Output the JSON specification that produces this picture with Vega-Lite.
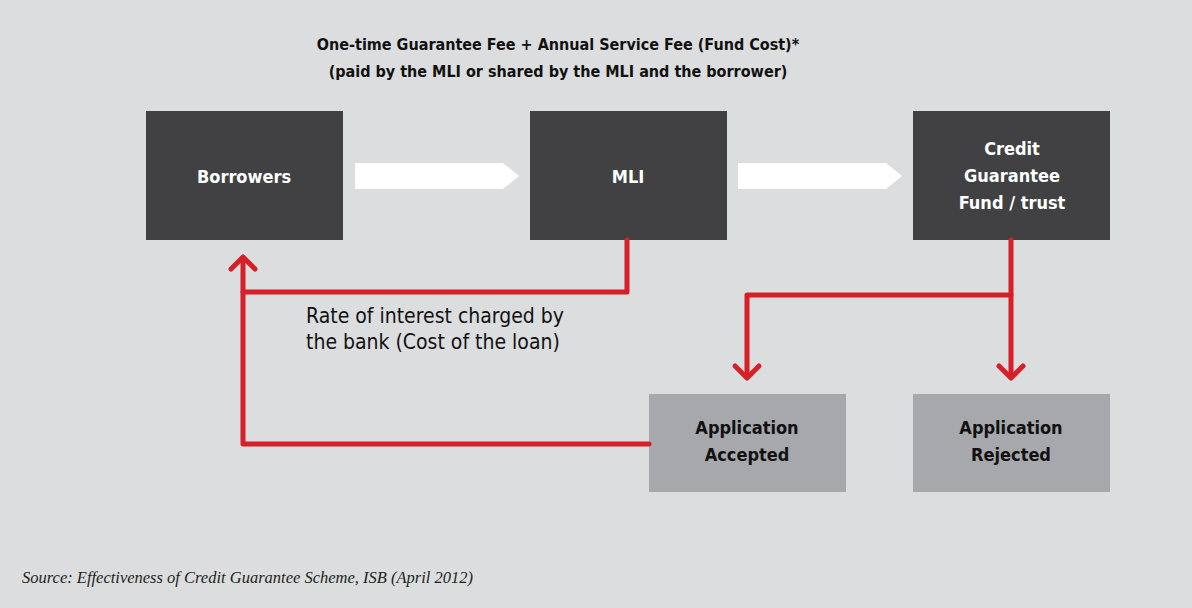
{
  "$schema": "https://vega.github.io/schema/vega-lite/v6.json",
  "width": 1192,
  "height": 608,
  "padding": 0,
  "autosize": {"type": "fit", "contains": "padding"},
  "background": "#dcdddf",
  "config": {"view": {"stroke": null}},
  "datasets": {
    "boxes": [
      {"name": "Borrowers", "x1": 146, "x2": 343, "y1": 111, "y2": 240, "kind": "main"},
      {"name": "MLI", "x1": 530, "x2": 727, "y1": 111, "y2": 240, "kind": "main"},
      {"name": "Fund", "x1": 913, "x2": 1110, "y1": 111, "y2": 240, "kind": "main"},
      {"name": "Accepted", "x1": 649, "x2": 846, "y1": 394, "y2": 492, "kind": "outcome"},
      {"name": "Rejected", "x1": 913, "x2": 1110, "y1": 394, "y2": 492, "kind": "outcome"}
    ],
    "arrows": [
      {"arrow": "a1", "x": 355, "top": 163, "bottom": 189},
      {"arrow": "a1", "x": 503, "top": 163, "bottom": 189},
      {"arrow": "a1", "x": 519, "top": 176, "bottom": 176},
      {"arrow": "a2", "x": 738, "top": 163, "bottom": 189},
      {"arrow": "a2", "x": 886, "top": 163, "bottom": 189},
      {"arrow": "a2", "x": 902, "top": 176, "bottom": 176}
    ],
    "paths": [
      {"path": "A", "o": 1, "x": 649, "y": 444},
      {"path": "A", "o": 2, "x": 243, "y": 444},
      {"path": "A", "o": 3, "x": 243, "y": 258},
      {"path": "B", "o": 1, "x": 627, "y": 240},
      {"path": "B", "o": 2, "x": 627, "y": 292},
      {"path": "B", "o": 3, "x": 243, "y": 292},
      {"path": "H1", "o": 1, "x": 231, "y": 269},
      {"path": "H1", "o": 2, "x": 243, "y": 257},
      {"path": "H1", "o": 3, "x": 255, "y": 269},
      {"path": "C", "o": 1, "x": 1011, "y": 240},
      {"path": "C", "o": 2, "x": 1011, "y": 377},
      {"path": "D", "o": 1, "x": 1011, "y": 295},
      {"path": "D", "o": 2, "x": 747, "y": 295},
      {"path": "D", "o": 3, "x": 747, "y": 377},
      {"path": "H2", "o": 1, "x": 735, "y": 366},
      {"path": "H2", "o": 2, "x": 747, "y": 378},
      {"path": "H2", "o": 3, "x": 759, "y": 366},
      {"path": "H3", "o": 1, "x": 999, "y": 366},
      {"path": "H3", "o": 2, "x": 1011, "y": 378},
      {"path": "H3", "o": 3, "x": 1023, "y": 366}
    ],
    "whiteLabels": [
      {"text": "Borrowers", "x": 244, "y": 178},
      {"text": "MLI", "x": 628, "y": 178},
      {"text": "Credit", "x": 1012, "y": 150},
      {"text": "Guarantee", "x": 1012, "y": 177},
      {"text": "Fund / trust", "x": 1012, "y": 204}
    ],
    "darkLabels": [
      {"text": "Application", "x": 747, "y": 429},
      {"text": "Accepted", "x": 747, "y": 456},
      {"text": "Application", "x": 1011, "y": 429},
      {"text": "Rejected", "x": 1011, "y": 456}
    ],
    "titles": [
      {"text": "One-time Guarantee Fee + Annual Service Fee (Fund Cost)*", "x": 558, "y": 45},
      {"text": "(paid by the MLI or shared by the MLI and the borrower)", "x": 558, "y": 72}
    ],
    "notes": [
      {"text": "Rate of interest charged by", "x": 306, "y": 317},
      {"text": "the bank (Cost of the loan)", "x": 306, "y": 343}
    ],
    "source": [
      {"text": "Source: Effectiveness of Credit Guarantee Scheme, ISB (April 2012)", "x": 22, "y": 578}
    ]
  },
  "layer": [
    {
      "data": {"name": "boxes"},
      "mark": {"type": "rect"},
      "encoding": {
        "x": {"field": "x1", "type": "quantitative", "scale": {"domain": [0, 1192], "nice": false, "zero": false}, "axis": null},
        "x2": {"field": "x2"},
        "y": {"field": "y1", "type": "quantitative", "scale": {"domain": [0, 608], "nice": false, "zero": false, "reverse": true}, "axis": null},
        "y2": {"field": "y2"},
        "color": {"field": "kind", "type": "nominal", "scale": {"domain": ["main", "outcome"], "range": ["#414143", "#a7a8ab"]}, "legend": null}
      }
    },
    {
      "data": {"name": "arrows"},
      "mark": {"type": "area", "color": "#ffffff", "interpolate": "linear"},
      "encoding": {
        "x": {"field": "x", "type": "quantitative"},
        "y": {"field": "top", "type": "quantitative", "stack": null},
        "y2": {"field": "bottom"},
        "detail": {"field": "arrow"}
      }
    },
    {
      "data": {"name": "paths"},
      "mark": {"type": "line", "color": "#d71f27", "strokeWidth": 5, "strokeCap": "round", "strokeJoin": "round"},
      "encoding": {
        "x": {"field": "x", "type": "quantitative"},
        "y": {"field": "y", "type": "quantitative"},
        "detail": {"field": "path"},
        "order": {"field": "o", "type": "quantitative"}
      }
    },
    {
      "data": {"name": "whiteLabels"},
      "mark": {"type": "text", "font": "DejaVu Sans Condensed", "fontWeight": "bold", "fontSize": 18, "align": "center", "baseline": "middle", "color": "#ffffff"},
      "encoding": {
        "x": {"field": "x", "type": "quantitative"},
        "y": {"field": "y", "type": "quantitative"},
        "text": {"field": "text"}
      }
    },
    {
      "data": {"name": "darkLabels"},
      "mark": {"type": "text", "font": "DejaVu Sans Condensed", "fontWeight": "bold", "fontSize": 18, "align": "center", "baseline": "middle", "color": "#111111"},
      "encoding": {
        "x": {"field": "x", "type": "quantitative"},
        "y": {"field": "y", "type": "quantitative"},
        "text": {"field": "text"}
      }
    },
    {
      "data": {"name": "titles"},
      "mark": {"type": "text", "font": "DejaVu Sans Condensed", "fontWeight": "bold", "fontSize": 16, "align": "center", "baseline": "middle", "color": "#111111"},
      "encoding": {
        "x": {"field": "x", "type": "quantitative"},
        "y": {"field": "y", "type": "quantitative"},
        "text": {"field": "text"}
      }
    },
    {
      "data": {"name": "notes"},
      "mark": {"type": "text", "font": "DejaVu Sans Condensed", "fontSize": 21, "align": "left", "baseline": "middle", "color": "#111111"},
      "encoding": {
        "x": {"field": "x", "type": "quantitative"},
        "y": {"field": "y", "type": "quantitative"},
        "text": {"field": "text"}
      }
    },
    {
      "data": {"name": "source"},
      "mark": {"type": "text", "font": "Liberation Serif", "fontStyle": "italic", "fontSize": 16.5, "align": "left", "baseline": "middle", "color": "#231f20"},
      "encoding": {
        "x": {"field": "x", "type": "quantitative"},
        "y": {"field": "y", "type": "quantitative"},
        "text": {"field": "text"}
      }
    }
  ]
}
